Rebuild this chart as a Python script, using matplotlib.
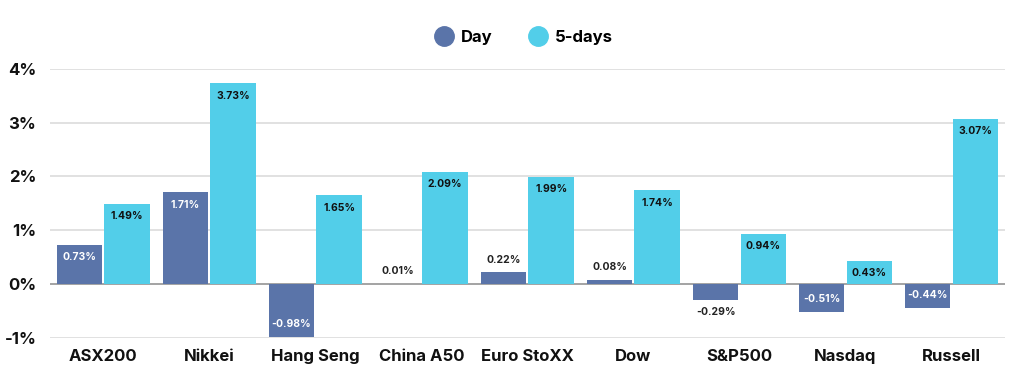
import matplotlib
matplotlib.use("Agg")
import matplotlib.pyplot as plt
from matplotlib.lines import Line2D
import numpy as np

# data
markets = ["ASX200", "Nikkei", "Hang Seng", "China A50", "Euro StoXX",
           "Dow", "S&P500", "Nasdaq", "Russell"]
day = [0.73, 1.71, -0.98, 0.01, 0.22, 0.08, -0.29, -0.51, -0.44]
five_days = [1.49, 3.73, 1.65, 2.09, 1.99, 1.74, 0.94, 0.43, 3.07]
yticks = [-1, 0, 1, 2, 3, 4]

DAY_COL = "#5a74a9"
FIVE_COL = "#52cee9"
FONT = "Inter"

fig = plt.figure(figsize=(10.24, 3.78), dpi=100, facecolor="white")
ax = fig.add_axes([0.049, 0.106, 0.932, 0.712])

x = np.arange(len(markets))
w = 0.43
off = 0.225

b1 = ax.bar(x - off, day, w, color=DAY_COL, zorder=3, label="Day")
b2 = ax.bar(x + off, five_days, w, color=FIVE_COL, zorder=3, label="5-days")


def label_bars(bars, vals, inside_col):
    for bar, v in zip(bars, vals):
        cx = bar.get_x() + bar.get_width() / 2
        txt = f"{v:.2f}%"
        if abs(v) >= 0.4:
            # inside the bar near its end
            dy = -9 if v > 0 else 9
            col = inside_col
        else:
            dy = 9 if v >= 0 else -9
            col = "#222222"
        ax.annotate(txt, (cx, v), xytext=(0, dy), textcoords="offset points",
                    ha="center", va="center", fontsize=7.5, fontweight="bold",
                    color=col, family=FONT, zorder=4)


label_bars(b1, day, "white")
label_bars(b2, five_days, "#111111")

ax.set_xlim(-0.5, len(markets) - 0.5)
ax.set_ylim(-1, 4)
ax.set_yticks(yticks)
ax.set_yticklabels([f"{t}%" for t in yticks])
ax.set_xticks(x)
ax.set_xticklabels(markets)
for lab in ax.get_xticklabels() + ax.get_yticklabels():
    lab.set_fontfamily(FONT)
    lab.set_fontweight("bold")
    lab.set_fontsize(12)
    lab.set_color("#111111")
ax.tick_params(length=0)
ax.tick_params(axis="x", pad=8)
ax.tick_params(axis="y", pad=10)

ax.grid(axis="y", color="#dcdcdc", linewidth=1.2, zorder=0)
ax.axhline(0, color="#9a9a9a", linewidth=1.2, zorder=2)
for s in ax.spines.values():
    s.set_visible(False)

# round legend markers
handles = [Line2D([], [], marker="o", linestyle="", markersize=14, color=DAY_COL),
           Line2D([], [], marker="o", linestyle="", markersize=14, color=FIVE_COL)]
fig.legend(handles=handles, labels=["Day", "5-days"], loc="center",
           bbox_to_anchor=(0.512, 0.9), ncol=2, frameon=False,
           prop={"family": FONT, "weight": "bold", "size": 12},
           handlelength=1.0, columnspacing=2.2, handletextpad=0.5)

fig.savefig("out.png", dpi=100, facecolor="white")
